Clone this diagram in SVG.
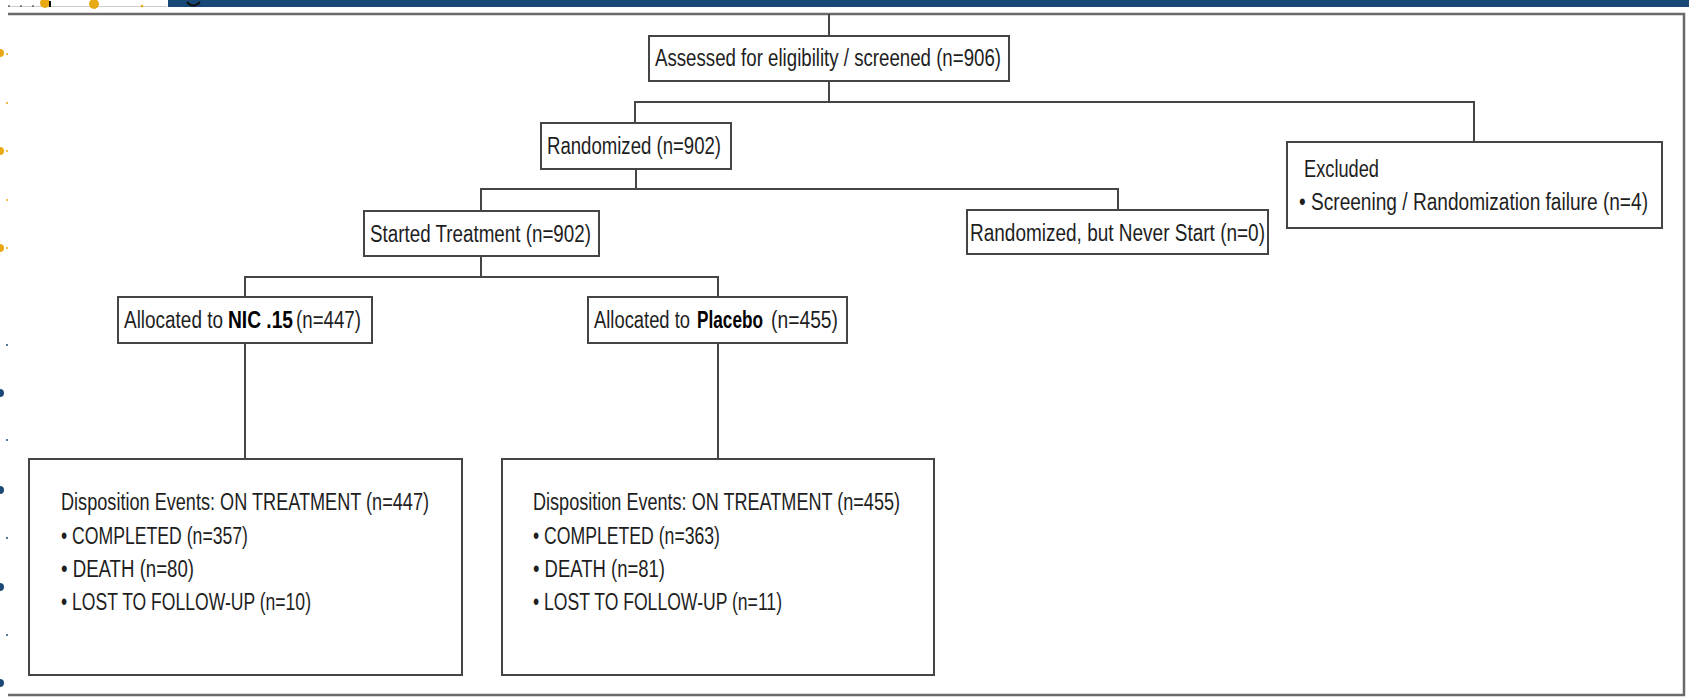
<svg xmlns="http://www.w3.org/2000/svg" width="1689" height="697" viewBox="0 0 1689 697">
<style>
  .box { fill: #ffffff; stroke: #454545; stroke-width: 2; }
  .conn { fill: none; stroke: #454545; stroke-width: 2; }
  .frame { fill: none; stroke: #6a6a6a; stroke-width: 2.5; }
  .t { font-family: "Liberation Sans", Arial, sans-serif; font-size: 19px; fill: #1e1e1e; }
  .d { font-size: 18.5px; }
  .b { font-weight: bold; fill: #000000; }
  .or { fill: #e8a912; }
  .bl { fill: #1b4a78; }
</style>
<rect x="0" y="0" width="1689" height="697" fill="#ffffff"/>
<g id="decor">
  <rect x="168" y="0" width="1521" height="7" fill="#174878"/>
  <path d="M187,2 Q193,9 200,2" fill="none" stroke="#111" stroke-width="2"/>
  <line x1="8" y1="6.5" x2="167" y2="6.5" stroke="#cccccc" stroke-width="1"/>
  <circle cx="9" cy="6" r="1" fill="#666"/>
  <circle cx="21" cy="6" r="1" fill="#666"/>
  <circle cx="33" cy="6" r="1" fill="#666"/>
  <circle class="or" cx="45" cy="3" r="5"/>
  <rect x="49" y="1" width="2" height="6" fill="#111"/>
  <circle class="or" cx="94" cy="4" r="5"/>
  <circle class="or" cx="142" cy="6" r="1.3"/>
  <circle class="or" cx="0" cy="53" r="4"/>
  <circle class="or" cx="0" cy="151" r="4"/>
  <circle class="or" cx="0" cy="248" r="4"/>
  <circle class="or" cx="7" cy="54" r="1"/>
  <circle class="or" cx="7" cy="103" r="1"/>
  <circle class="or" cx="7" cy="151" r="1"/>
  <circle class="or" cx="7" cy="200" r="1"/>
  <circle class="or" cx="7" cy="248" r="1"/>
  <circle class="bl" cx="0" cy="393" r="4"/>
  <circle class="bl" cx="0" cy="490" r="4"/>
  <circle class="bl" cx="0" cy="587" r="4"/>
  <circle class="bl" cx="0" cy="683" r="4"/>
  <circle class="bl" cx="7" cy="345" r="1"/>
  <circle class="bl" cx="7" cy="440" r="1"/>
  <circle class="bl" cx="7" cy="538" r="1"/>
  <circle class="bl" cx="7" cy="635" r="1"/>
  <polyline class="frame" points="8,14 1684,14 1684,695 8,695"/>
</g>
<g id="connectors">
  <path class="conn" d="M829,14 V36"/>
  <path class="conn" d="M829,81 V102 M635,123 V102 H1474 V142"/>
  <path class="conn" d="M636,169 V189 M481,211 V189 H1118 V210"/>
  <path class="conn" d="M481,256 V277 M245,297 V277 H718 V297"/>
  <path class="conn" d="M245,343 V459"/>
  <path class="conn" d="M718,343 V459"/>
</g>
<g id="assessed">
  <rect class="box" x="649" y="36" width="360" height="45"/>
  <text class="t" transform="translate(655,66) scale(1,1.3)" textLength="346" lengthAdjust="spacingAndGlyphs">Assessed for eligibility / screened (n=906)</text>
</g>
<g id="randomized">
  <rect class="box" x="541" y="123" width="190" height="46"/>
  <text class="t" transform="translate(547,154) scale(1,1.3)" textLength="174" lengthAdjust="spacingAndGlyphs">Randomized (n=902)</text>
</g>
<g id="excluded">
  <rect class="box" x="1287" y="142" width="375" height="86"/>
  <text class="t" transform="translate(1304,177) scale(1,1.3)" textLength="75" lengthAdjust="spacingAndGlyphs">Excluded</text>
  <text class="t" transform="translate(1299,210) scale(1,1.3)" textLength="349" lengthAdjust="spacingAndGlyphs">• Screening / Randomization failure (n=4)</text>
</g>
<g id="started">
  <rect class="box" x="364" y="211" width="235" height="45"/>
  <text class="t" transform="translate(370,242) scale(1,1.3)" textLength="221" lengthAdjust="spacingAndGlyphs">Started Treatment (n=902)</text>
</g>
<g id="neverstart">
  <rect class="box" x="967" y="210" width="301" height="44"/>
  <text class="t" transform="translate(970,241) scale(1,1.3)" textLength="295" lengthAdjust="spacingAndGlyphs">Randomized, but Never Start (n=0)</text>
</g>
<g id="nic">
  <rect class="box" x="118" y="297" width="254" height="46"/>
  <text class="t" transform="translate(124,328) scale(1,1.3)" textLength="99" lengthAdjust="spacingAndGlyphs">Allocated to</text>
  <text class="t b" transform="translate(228,328) scale(1,1.3)" textLength="65" lengthAdjust="spacingAndGlyphs">NIC .15</text>
  <text class="t" transform="translate(296,328) scale(1,1.3)" textLength="65" lengthAdjust="spacingAndGlyphs">(n=447)</text>
</g>
<g id="placebo">
  <rect class="box" x="588" y="297" width="259" height="46"/>
  <text class="t" transform="translate(594,328) scale(1,1.3)" textLength="96" lengthAdjust="spacingAndGlyphs">Allocated to</text>
  <text class="t b" transform="translate(697,328) scale(1,1.3)" textLength="66" lengthAdjust="spacingAndGlyphs">Placebo</text>
  <text class="t" transform="translate(771,328) scale(1,1.3)" textLength="67" lengthAdjust="spacingAndGlyphs">(n=455)</text>
</g>
<g id="disp-nic">
  <rect class="box" x="29" y="459" width="433" height="216"/>
  <text class="t d" transform="translate(61,510) scale(1,1.3)" textLength="368" lengthAdjust="spacingAndGlyphs">Disposition Events: ON TREATMENT (n=447)</text>
  <text class="t d" transform="translate(61,544) scale(1,1.3)" textLength="187" lengthAdjust="spacingAndGlyphs">• COMPLETED (n=357)</text>
  <text class="t d" transform="translate(61,577) scale(1,1.3)" textLength="133" lengthAdjust="spacingAndGlyphs">• DEATH (n=80)</text>
  <text class="t d" transform="translate(61,610) scale(1,1.3)" textLength="250" lengthAdjust="spacingAndGlyphs">• LOST TO FOLLOW-UP (n=10)</text>
</g>
<g id="disp-placebo">
  <rect class="box" x="502" y="459" width="432" height="216"/>
  <text class="t d" transform="translate(533,510) scale(1,1.3)" textLength="367" lengthAdjust="spacingAndGlyphs">Disposition Events: ON TREATMENT (n=455)</text>
  <text class="t d" transform="translate(533,544) scale(1,1.3)" textLength="187" lengthAdjust="spacingAndGlyphs">• COMPLETED (n=363)</text>
  <text class="t d" transform="translate(533,577) scale(1,1.3)" textLength="132" lengthAdjust="spacingAndGlyphs">• DEATH (n=81)</text>
  <text class="t d" transform="translate(533,610) scale(1,1.3)" textLength="249" lengthAdjust="spacingAndGlyphs">• LOST TO FOLLOW-UP (n=11)</text>
</g>
</svg>
